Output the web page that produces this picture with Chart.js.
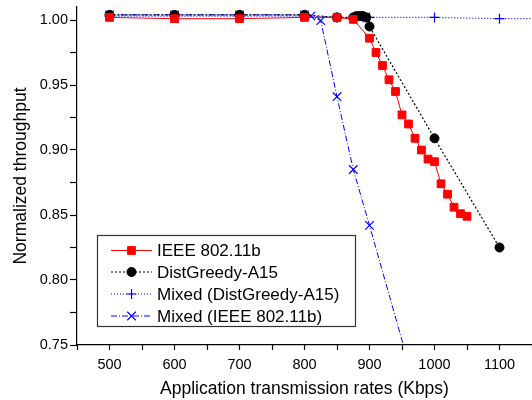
<!DOCTYPE html>
<html>
<head>
<meta charset="utf-8">
<script src="https://cdn.jsdelivr.net/npm/chart.js@4/dist/chart.umd.min.js"></script>
<style>
  body { margin: 0; background: #fff; }
  #wrap { width: 532px; height: 400px; }
</style>
</head>
<body>
<div id="wrap"><canvas id="c" width="532" height="400"></canvas></div>
<script>
// values
var seriesNames = ["IEEE 802.11b", "DistGreedy-A15", "Mixed (DistGreedy-A15)", "Mixed (IEEE 802.11b)"];

var ieeeRates = [500, 600, 700, 800, 850, 875, 900, 910, 920, 930, 940, 950, 960, 970, 980, 990, 1000, 1010, 1020, 1030, 1040, 1050];
var ieeeThroughput = [1.002, 1.001, 1.001, 1.002, 1.002, 1.0005, 0.986, 0.975, 0.965, 0.954, 0.945, 0.927, 0.920, 0.909, 0.900, 0.893, 0.891, 0.874, 0.866, 0.856, 0.851, 0.849];

var greedyRates = [500, 600, 700, 800, 850, 875, 880, 885, 890, 895, 900, 1000, 1100];
var greedyThroughput = [1.004, 1.004, 1.004, 1.004, 1.002, 1.002, 1.003, 1.003, 1.003, 1.002, 0.995, 0.909, 0.825];

var mixedGreedyRates = [500, 600, 700, 800, 850, 875, 890, 900, 1000, 1100, 1200];
var mixedGreedyThroughput = [1.003, 1.003, 1.003, 1.003, 1.002, 1.001, 1.002, 1.002, 1.002, 1.001, 1.001];

var mixedIeeeRates = [500, 600, 700, 800, 810, 825, 850, 875, 900, 1000];
var mixedIeeeThroughput = [1.004, 1.004, 1.004, 1.004, 1.003, 0.9995, 0.941, 0.885, 0.842, 0.665];

var xTickLabels = [500, 600, 700, 800, 900, 1000, 1100];
var yTickLabels = [0.75, 0.80, 0.85, 0.90, 0.95, 1.00];

function pairs(xs, ys) {
  return xs.map(function(x, i) { return {x: x, y: ys[i]}; });
}

var FONT = "'Liberation Sans', Arial, sans-serif";

// legend drawn as a boxed list inside the plot, like the original
var boxLegend = {
  id: "boxLegend",
  afterDraw: function(chart) {
    var ctx = chart.ctx;
    var box = {x: 97.5, y: 235.5, w: 258, h: 91};
    ctx.save();
    ctx.fillStyle = "#fff";
    ctx.fillRect(box.x, box.y, box.w, box.h);
    ctx.strokeStyle = "#333";
    ctx.lineWidth = 1.2;
    ctx.strokeRect(box.x, box.y, box.w, box.h);
    var rows = [250.5, 272, 294, 316];
    chart.data.datasets.forEach(function(ds, i) {
      var y = rows[i];
      ctx.save();
      ctx.strokeStyle = ds.borderColor;
      ctx.lineWidth = ds.borderWidth;
      ctx.setLineDash(ds.borderDash || []);
      ctx.beginPath();
      ctx.moveTo(111, y);
      ctx.lineTo(152, y);
      ctx.stroke();
      ctx.setLineDash([]);
      ctx.fillStyle = ds.pointBackgroundColor;
      ctx.strokeStyle = ds.pointBorderColor;
      ctx.lineWidth = ds.pointBorderWidth;
      Chart.helpers.drawPoint(ctx, {
        pointStyle: ds.pointStyle, radius: ds.pointRadius,
        borderWidth: ds.pointBorderWidth, rotation: 0
      }, 131.5, y);
      ctx.restore();
      ctx.fillStyle = "#000";
      ctx.font = "17px " + FONT;
      ctx.textBaseline = "middle";
      ctx.textAlign = "left";
      ctx.fillText(ds.label, 157, y + 1);
    });
    ctx.restore();
  }
};

var chart = new Chart(document.getElementById("c"), {
  type: "scatter",
  data: {
    datasets: [{
      label: seriesNames[0],
      data: pairs(ieeeRates, ieeeThroughput),
      showLine: true,
      borderColor: "#ff0000",
      borderWidth: 1,
      pointStyle: "rect",
      pointRadius: 5.5,
      pointBackgroundColor: "#ff0000",
      pointBorderColor: "#ff0000",
      pointBorderWidth: 1
    }, {
      label: seriesNames[1],
      data: pairs(greedyRates, greedyThroughput),
      showLine: true,
      borderColor: "#000",
      borderWidth: 1.2,
      borderDash: [2, 2],
      pointStyle: "circle",
      pointRadius: 4.5,
      pointBackgroundColor: "#000",
      pointBorderColor: "#000",
      pointBorderWidth: 1
    }, {
      label: seriesNames[2],
      data: pairs(mixedGreedyRates, mixedGreedyThroughput),
      showLine: true,
      borderColor: "#0000ff",
      borderWidth: 1.2,
      borderDash: [1, 2],
      pointStyle: "cross",
      pointRadius: 5,
      pointBackgroundColor: "#0000ff",
      pointBorderColor: "#0000ff",
      pointBorderWidth: 1.2
    }, {
      label: seriesNames[3],
      data: pairs(mixedIeeeRates, mixedIeeeThroughput),
      showLine: true,
      borderColor: "#0000ff",
      borderWidth: 1,
      borderDash: [6, 2, 1, 2],
      pointStyle: "crossRot",
      pointRadius: 6,
      pointBackgroundColor: "#0000ff",
      pointBorderColor: "#0000ff",
      pointBorderWidth: 1.2
    }]
  },
  options: {
    responsive: false,
    animation: false,
    layout: { autoPadding: false, padding: { top: 7, right: 0, left: 0, bottom: 0 } },
    plugins: { legend: { display: false }, tooltip: { enabled: false } },
    scales: {
      x: {
        type: "linear",
        min: 450,
        max: 1150,
        afterFit: function(s) { s.height = 55; s.paddingLeft = 0; s.paddingRight = 0; },
        border: { display: true, color: "#000", width: 1.2 },
        grid: { drawOnChartArea: false, drawTicks: true, tickLength: 5, tickColor: "#000", tickWidth: 1.2 },
        ticks: {
          stepSize: 50,
          autoSkip: false,
          maxRotation: 0,
          includeBounds: false,
          padding: 6,
          color: "#000",
          font: { family: FONT, size: 14.5 },
          callback: function(v) { return xTickLabels.indexOf(v) >= 0 ? String(v) : ""; }
        },
        title: {
          display: true,
          text: "Application transmission rates (Kbps)",
          color: "#000",
          font: { family: FONT, size: 17.5 },
          padding: { top: 0, bottom: 0 }
        }
      },
      y: {
        type: "linear",
        min: 0.75,
        max: 1.01,
        afterFit: function(s) { s.width = 77; s.paddingTop = 0; s.paddingBottom = 0; },
        border: { display: true, color: "#000", width: 1.2 },
        grid: { drawOnChartArea: false, drawTicks: true, tickLength: 7, tickColor: "#000", tickWidth: 1.2 },
        ticks: {
          stepSize: 0.025,
          autoSkip: false,
          includeBounds: false,
          padding: 2,
          color: "#000",
          font: { family: FONT, size: 14.5 },
          callback: function(v) {
            for (var i = 0; i < yTickLabels.length; i++) {
              if (Math.abs(yTickLabels[i] - v) < 1e-6) return yTickLabels[i].toFixed(2);
            }
            return "";
          }
        },
        title: {
          display: true,
          text: "Normalized throughput",
          color: "#000",
          font: { family: FONT, size: 17.5 },
          padding: { top: 11, bottom: 11 }
        }
      }
    }
  },
  plugins: [boxLegend]
});
</script>
</body>
</html>
